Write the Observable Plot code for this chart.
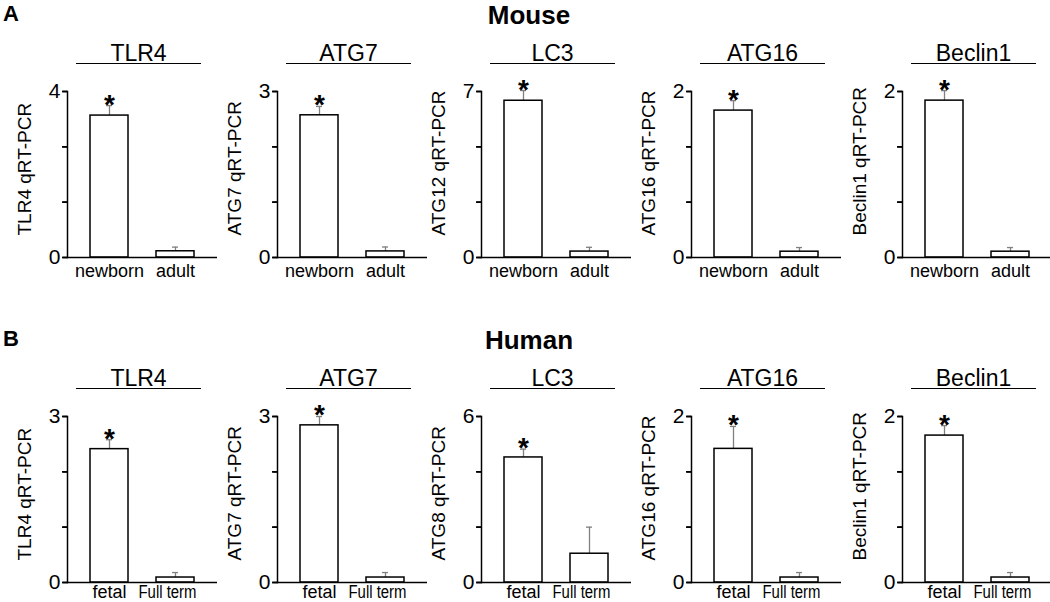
<!DOCTYPE html>
<html><head><meta charset="utf-8">
<script src="https://cdn.jsdelivr.net/npm/d3@7"></script>
<script src="https://cdn.jsdelivr.net/npm/@observablehq/plot@0.6"></script>
<style>
html,body{margin:0;padding:0;background:#fff;overflow:hidden;}
#fig{position:relative;width:1050px;height:602px;overflow:hidden;font-family:"Liberation Sans",Arial,Helvetica,sans-serif;color:#000;background:#fff;}
.abs{position:absolute;line-height:1;white-space:nowrap;}
.letter{font-weight:bold;font-size:22px;}
.rowtitle{font-weight:bold;font-size:26px;transform:translateX(-50%);}
.ptitle{font-size:23px;transform:translateX(-50%);}
.uline{position:absolute;height:0;border-top:1.6px solid #000;}
.panel{position:absolute;width:225px;}
.panel svg{max-width:none !important;}
</style></head><body><div id="fig"></div>
<script>
// ---- data ----
const genes = ["TLR4", "ATG7", "LC3", "ATG16", "Beclin1"];
const sigMarks = ["*", ""];

const mouseGroups = ["newborn", "adult"];
const mouseYLabels = ["TLR4 qRT-PCR", "ATG7 qRT-PCR", "ATG12 qRT-PCR", "ATG16 qRT-PCR", "Beclin1 qRT-PCR"];
const mouseYMax = [4, 3, 7, 2, 2];
const mouseNewborn = [3.42, 2.57, 6.61, 1.77, 1.89];
const mouseNewbornErr = [0.24, 0.16, 0.43, 0.12, 0.12];
const mouseAdult = [0.15, 0.11, 0.25, 0.07, 0.07];
const mouseAdultErr = [0.10, 0.08, 0.18, 0.05, 0.05];

const humanGroups = ["fetal", "Full term"];
const humanYLabels = ["TLR4 qRT-PCR", "ATG7 qRT-PCR", "ATG8 qRT-PCR", "ATG16 qRT-PCR", "Beclin1 qRT-PCR"];
const humanYMax = [3, 3, 6, 2, 2];
const humanFetal = [2.41, 2.84, 4.52, 1.61, 1.77];
const humanFetalErr = [0.17, 0.16, 0.30, 0.27, 0.12];
const humanFullTerm = [0.09, 0.09, 1.04, 0.06, 0.06];
const humanFullTermErr = [0.09, 0.09, 0.96, 0.06, 0.06];

// ---- layout ----
const FONT = '"Liberation Sans", Arial, Helvetica, sans-serif';
const fig = document.getElementById("fig");
const axisX = [67, 277, 481, 691, 902];
const rows = [
  {letter: "A", name: "Mouse", top: 0, pad: 7, groups: mouseGroups, yLabels: mouseYLabels, yMax: mouseYMax,
   v: [mouseNewborn, mouseAdult], e: [mouseNewbornErr, mouseAdultErr]},
  {letter: "B", name: "Human", top: 325, pad: 3, groups: humanGroups, yLabels: humanYLabels, yMax: humanYMax,
   v: [humanFetal, humanFullTerm], e: [humanFetalErr, humanFullTermErr]}
];

// left-pointing tick symbol for the y axis
const leftTick = {
  draw(context, size) {
    const r = Math.sqrt(size / Math.PI);
    context.moveTo(-2 * r, 0);
    context.lineTo(0, 0);
  }
};

function addDiv(cls, text, left, top) {
  const d = document.createElement("div");
  d.className = "abs " + cls;
  d.textContent = text;
  d.style.left = left + "px";
  d.style.top = top + "px";
  fig.appendChild(d);
  return d;
}

function makeChart(r, i, withTicks) {
  const data = r.groups.map((grp, j) => ({group: grp, value: r.v[j][i], err: r.e[j][i], sig: sigMarks[j]}));
  const max = r.yMax[i];
  const tickVals = [0, max / 3, 2 * max / 3, max];
  return Plot.plot({
    width: 225, height: 217,
    marginLeft: 67, marginRight: 8, marginTop: 21, marginBottom: 30,
    style: {fontFamily: FONT, fontSize: "18px", overflow: "visible", background: "transparent", color: "#000", maxWidth: "none"},
    x: {type: "band", domain: r.groups, paddingInner: 0.42, paddingOuter: 0.33, align: 0.5},
    y: {domain: [0, max]},
    marks: [
      Plot.ruleX(data, {x: "group", y1: "value", y2: d => d.value + d.err, stroke: "#808080", strokeWidth: 1.3}),
      Plot.tickY(data, {x: "group", y: d => d.value + d.err, stroke: "#808080", strokeWidth: 1.3, insetLeft: 16, insetRight: 16}),
      Plot.barY(data, {x: "group", y: "value", fill: "#fff", stroke: "#000", strokeWidth: 1.5}),
      Plot.text(data.filter(d => d.sig), {x: "group", y: d => d.value + d.err, text: "sig", fontSize: 28, fontWeight: "bold", dy: -1}),
      Plot.axisX({tickSize: 0, tickPadding: r.pad, fontSize: 18, label: null}),
      Plot.axisY({ticks: tickVals, tickFormat: () => " ", tickSize: 5, label: null, stroke: "#000", strokeWidth: 1.6}),
      withTicks ? Plot.dot(tickVals, {y: d => d, frameAnchor: "left", symbol: leftTick, r: 2.5,
                                      fill: "none", stroke: "#000", strokeWidth: 1.6}) : null,
      Plot.axisY({ticks: [0, max], tickFormat: d => String(d), tickSize: 0, tickPadding: 7, fontSize: 21, label: null}),
      Plot.frame({anchor: "left", strokeWidth: 1.5}),
      Plot.ruleY([0], {strokeWidth: 1.5}),
      Plot.text([r.yLabels[i]], {frameAnchor: "bottom-left", text: d => d, rotate: -90, textAnchor: "start",
                                 dx: -37, dy: -22, fontSize: 19})
    ]
  });
}

rows.forEach(r => {
  addDiv("letter", r.letter, 3, r.top + 2.5);
  addDiv("rowtitle", r.name, 529, r.top + 2);
  genes.forEach((g, i) => {
    addDiv("ptitle", g, axisX[i] + 71.5, r.top + 41.5);
    const u = document.createElement("div");
    u.className = "uline";
    u.style.left = (axisX[i] + 9) + "px";
    u.style.top = (r.top + 63) + "px";
    u.style.width = "125px";
    fig.appendChild(u);

    let chart;
    try { chart = makeChart(r, i, true); } catch (err) { chart = makeChart(r, i, false); }
    chart.querySelectorAll("text").forEach(t => {
      if (t.textContent === "Full term") {
        t.setAttribute("textLength", 58);
        t.setAttribute("lengthAdjust", "spacingAndGlyphs");
        t.setAttribute("dx", -8);
      }
    });
    const wrap = document.createElement("div");
    wrap.className = "panel";
    wrap.style.left = (axisX[i] - 67) + "px";
    wrap.style.top = (r.top + 70) + "px";
    wrap.appendChild(chart);
    fig.appendChild(wrap);
  });
});
</script>
</body></html>
